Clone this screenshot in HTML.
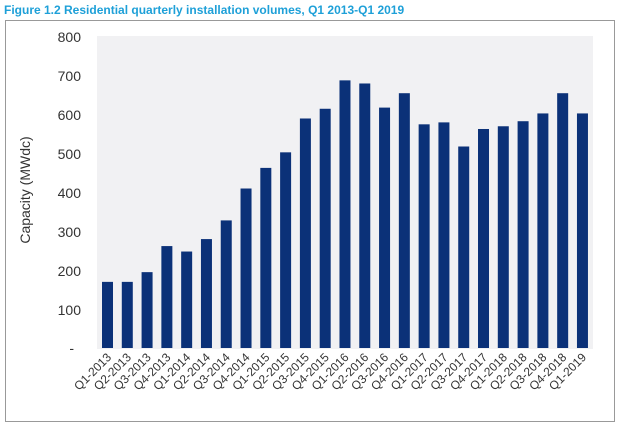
<!DOCTYPE html>
<html><head><style>
body{margin:0;background:#fff;width:618px;height:426px;overflow:hidden;font-family:"Liberation Sans",Arial,sans-serif}
</style></head><body>
<svg width="618" height="426" xmlns="http://www.w3.org/2000/svg" font-family="Liberation Sans, Arial, sans-serif">
<text x="4" y="14" font-size="12" font-weight="bold" fill="#1ea0d8">Figure 1.2 Residential quarterly installation volumes, Q1 2013-Q1 2019</text>
<rect x="5.5" y="20.5" width="609" height="401" fill="#fff" stroke="#999" stroke-width="1"/>
<rect x="97" y="36" width="496" height="313" fill="#f1f1f3"/>
<g font-size="14" fill="#333" text-anchor="end">
<text x="81" y="42">800</text><text x="81" y="81">700</text><text x="81" y="120">600</text><text x="81" y="159">500</text><text x="81" y="198">400</text><text x="81" y="237">300</text><text x="81" y="276">200</text><text x="81" y="315">100</text><text x="74" y="353">-</text>
</g>
<text transform="translate(30,190) rotate(-90)" font-size="14" fill="#333" text-anchor="middle">Capacity (MWdc)</text>
<g id="bars" fill="#0b3178"></g>
<g id="labels" font-size="12" fill="#333" text-anchor="end"></g>
<script>
var v=[170,170,195,262,248,280,328,410,463,503,590,615,688,680,618,655,575,580,518,563,570,583,603,655,603];
var b=document.getElementById('bars'),l=document.getElementById('labels'),ns='http://www.w3.org/2000/svg';
for(var i=0;i<25;i++){var x=102+i*19.79,h=v[i]*0.389;
var r=document.createElementNS(ns,'rect');r.setAttribute('x',x);r.setAttribute('y',348-h);r.setAttribute('width',11);r.setAttribute('height',h);b.appendChild(r);
var q=(i%4)+1,y=2013+Math.floor(i/4);var t=document.createElementNS(ns,'text');var cx=x+10,cy=358;
t.setAttribute('transform','translate('+cx+','+cy+') rotate(-45)');t.textContent='Q'+q+'-'+y;l.appendChild(t);}
</script>
</svg>
</body></html>
